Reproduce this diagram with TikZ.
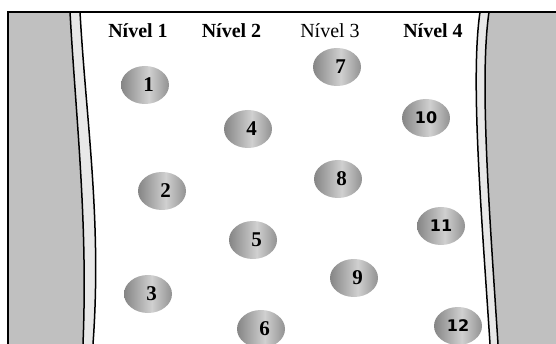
\documentclass[tikz,border=0pt]{standalone}
\usepackage{fontspec}
\setmainfont{Liberation Serif}
\newfontfamily\numsans{DejaVu Sans}
\usetikzlibrary{shapes.geometric}
\definecolor{shA}{HTML}{858585}
\definecolor{shB}{HTML}{D0D0D0}
\definecolor{shC}{HTML}{929292}
\definecolor{bankgray}{HTML}{C0C0C0}
\definecolor{stripgray}{HTML}{E8E8E8}
\pgfdeclarehorizontalshading{ballshade}{100bp}{color(0bp)=(shA); color(25bp)=(shA); color(54bp)=(shB); color(75bp)=(shC); color(100bp)=(shC)}
\newcommand{\rdig}[1]{\hspace*{7pt}#1}
\tikzset{
  ball/.style={ellipse, shading=ballshade, draw=none, minimum width=48pt, minimum height=38pt, inner sep=0pt, font=\fontsize{21}{21}\selectfont\bfseries},
  sball/.style={ball, font=\numsans\fontsize{16}{16}\selectfont\bfseries},
  head/.style={anchor=base, inner sep=0pt, font=\fontsize{20}{20}\selectfont},
  edge/.style={line width=1.5pt, black}
}
\begin{document}
\begin{tikzpicture}[x=1pt,y=-1pt]
\useasboundingbox (0,0) rectangle (556,344);
% left bank
\fill[bankgray] (8,12) -- (70,12) .. controls (76,120) and (88,220) .. (83,344) -- (8,344) -- cycle;
\fill[stripgray] (70,12) .. controls (76,120) and (88,220) .. (83,344) -- (93,344) .. controls (102,220) and (86,120) .. (80,12) -- cycle;
\draw[edge] (70,12) .. controls (76,120) and (88,220) .. (83,344);
\draw[edge] (80,12) .. controls (86,120) and (102,220) .. (93,344);
% right bank
\fill[bankgray] (489,12) .. controls (479,80) and (490,220) .. (498,344) -- (556,344) -- (556,12) -- cycle;
\fill[stripgray] (480,12) .. controls (470,80) and (482,220) .. (490,344) -- (498,344) .. controls (490,220) and (479,80) .. (489,12) -- cycle;
\draw[edge] (480,12) .. controls (470,80) and (482,220) .. (490,344);
\draw[edge] (489,12) .. controls (479,80) and (490,220) .. (498,344);
% frame
\draw[edge] (8,344) -- (8,12) -- (556,12);
% headers
\node[head, font=\fontsize{20}{20}\selectfont\bfseries] (h1) at (138,38) {Nível 1};
\node[head, font=\fontsize{20}{20}\selectfont\bfseries] (h2) at (231.5,38) {Nível 2};
\node[head] (h3) at (330,38) {Nível 3};
\node[head, font=\fontsize{20}{20}\selectfont\bfseries] (h4) at (433,38) {Nível 4};
% balls
\node[ball] (n1) at (145,85) {\rdig{1}};
\node[ball] (n2) at (162,191) {\rdig{2}};
\node[ball] (n3) at (148,294) {\rdig{3}};
\node[ball] (n4) at (248,129) {\rdig{4}};
\node[ball] (n5) at (253,240) {\rdig{5}};
\node[ball] (n6) at (261,329) {\rdig{6}};
\node[ball] (n7) at (337,67) {\rdig{7}};
\node[ball] (n8) at (338,179) {\rdig{8}};
\node[ball] (n9) at (354,278) {\rdig{9}};
\node[sball] (n10) at (426,118) {10};
\node[sball] (n11) at (441,226) {11};
\node[sball] (n12) at (458,326) {12};
\end{tikzpicture}
\end{document}
